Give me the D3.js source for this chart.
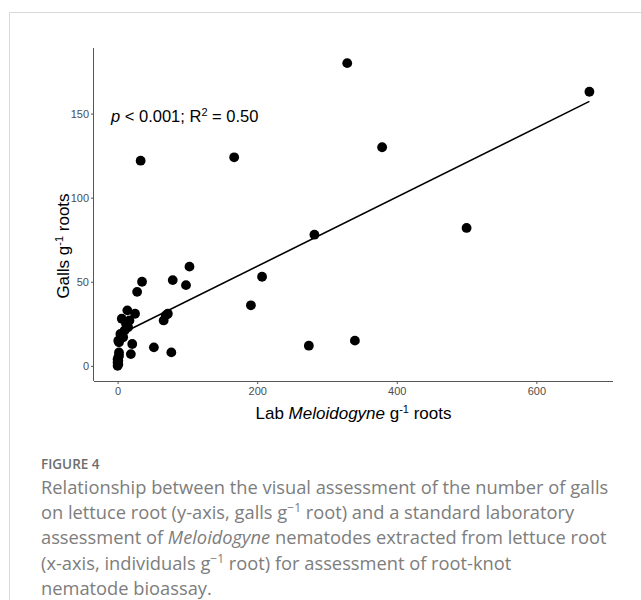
<!DOCTYPE html>
<html lang="en">
	<head>
		<meta charset="UTF-8" />
		<title>Galls vs Meloidogyne</title>
		<style>
			body { margin: 0; background: #fff; }
		</style>
	</head>
	<body>
		<div id="chart"></div>
		<script src="https://d3js.org/d3.v7.min.js"></script>
		<script>
			const width = 641;
			const height = 600;

			// Lab Meloidogyne g-1 roots (x) and galls g-1 roots (y)
			const labCounts = [329, 676, 379, 167, 33, 500, 282, 103, 207, 35, 79, 98, 28, 191, 72, 66, 69,
				14, 25, 6, 17, 12, 15, 10, 274, 340, 52, 77, 21, 19, 2, 8, 4, 1,
				0, 1, 0, 1, 0, 1, 2, 2];
			const gallCounts = [180, 163, 130, 124, 122, 82, 78, 59, 53, 50, 51, 48, 44, 36, 31, 27, 30,
				33, 31, 28, 27, 25, 23, 21, 12, 15, 11, 8, 13, 7, 14, 17, 19, 15,
				0, 1, 2, 3, 4, 5, 6, 8];

			const xTicks = [0, 200, 400, 600];
			const yTicks = [0, 50, 100, 150];

			// linear fit shown on the figure
			const fitIntercept = 18.0;
			const fitSlope = 0.206;
			const fitRange = [0, 676];

			const captionLines = [
				[{ t: "Relationship between the visual assessment of the number of galls" }],
				[{ t: "on lettuce root (y-axis, galls g" }, { t: "−1", sup: true }, { t: " root) and a standard laboratory" }],
				[{ t: "assessment of " }, { t: "Meloidogyne", it: true }, { t: " nematodes extracted from lettuce root" }],
				[{ t: "(x-axis, individuals g" }, { t: "−1", sup: true }, { t: " root) for assessment of root-knot" }],
				[{ t: "nematode bioassay." }],
			];

			const panel = { left: 94, right: 613, top: 48, bottom: 381 };

			const svg = d3
				.select("#chart")
				.append("svg")
				.attr("width", width)
				.attr("height", height)
				.style("font-family", "'Liberation Sans', Arial, sans-serif");

			svg.append("rect").attr("width", width).attr("height", height).attr("fill", "#fff");

			// frame of the figure box
			svg.append("path")
				.attr("d", `M9.5,${height} V12.5 H${width}`)
				.attr("fill", "none")
				.attr("stroke", "#d9d9d9")
				.attr("stroke-width", 1);

			const points = labCounts.map((x, i) => ({ x: x, y: gallCounts[i] }));

			const xMax = d3.max(labCounts);
			const yMax = d3.max(gallCounts);
			const x = d3
				.scaleLinear()
				.domain([-0.05 * xMax, xMax * 1.05])
				.range([panel.left, panel.right]);
			const y = d3
				.scaleLinear()
				.domain([-0.05 * yMax, yMax * 1.05])
				.range([panel.bottom, panel.top]);

			const xAxis = svg
				.append("g")
				.attr("transform", `translate(0,${panel.bottom})`)
				.call(d3.axisBottom(x).tickValues(xTicks).tickSize(3).tickPadding(3).tickSizeOuter(0));
			const yAxis = svg
				.append("g")
				.attr("transform", `translate(${panel.left},0)`)
				.call(d3.axisLeft(y).tickValues(yTicks).tickSize(3).tickPadding(2).tickSizeOuter(0));

			[xAxis, yAxis].forEach(function (a) {
				a.select(".domain").attr("stroke", "#555").attr("stroke-width", 1);
				a.selectAll(".tick line").attr("stroke", "#555");
				a.selectAll(".tick text")
					.attr("fill", "#4d4d4d")
					.style("font-size", "11px")
					.style("font-family", "'Liberation Sans', Arial, sans-serif");
			});
			xAxis.select(".domain").attr("d", `M${panel.left},0.5H${panel.right}`);
			yAxis.select(".domain").attr("d", `M-0.5,${panel.top}V${panel.bottom}`);

			// regression line
			svg.append("line")
				.attr("x1", x(fitRange[0]))
				.attr("y1", y(fitIntercept + fitSlope * fitRange[0]))
				.attr("x2", x(fitRange[1]))
				.attr("y2", y(fitIntercept + fitSlope * fitRange[1]))
				.attr("stroke", "#000")
				.attr("stroke-width", 1.6);

			svg.append("g")
				.selectAll("circle")
				.data(points)
				.join("circle")
				.attr("cx", (d) => x(d.x))
				.attr("cy", (d) => y(d.y))
				.attr("r", 4.9)
				.attr("fill", "#000");

			// annotation
			const ann = svg.append("text")
				.attr("x", 111)
				.attr("y", 122)
				.style("font-size", "16.5px")
				.attr("fill", "#000");
			ann.append("tspan").style("font-style", "italic").text("p");
			ann.append("tspan").text(" < 0.001; R");
			ann.append("tspan").attr("dy", -6).style("font-size", "11px").text("2");
			ann.append("tspan").attr("dy", 6).text(" = 0.50");

			// axis titles
			const xt = svg.append("text")
				.attr("x", (panel.left + panel.right) / 2)
				.attr("y", 419)
				.attr("text-anchor", "middle")
				.style("font-size", "17px")
				.attr("fill", "#000");
			xt.append("tspan").text("Lab ");
			xt.append("tspan").style("font-style", "italic").text("Meloidogyne");
			xt.append("tspan").text(" g");
			xt.append("tspan").attr("dy", -6).style("font-size", "11px").text("-1");
			xt.append("tspan").attr("dy", 6).text(" roots");

			const yt = svg.append("text")
				.attr("transform", "translate(69,246) rotate(-90)")
				.attr("text-anchor", "middle")
				.style("font-size", "17px")
				.attr("fill", "#000");
			yt.append("tspan").text("Galls g");
			yt.append("tspan").attr("dy", -6).style("font-size", "11px").text("-1");
			yt.append("tspan").attr("dy", 6).text(" roots");

			// caption
			svg.append("text")
				.attr("x", 41)
				.attr("y", 469)
				.style("font-family", "'Open Sans', sans-serif")
				.style("font-size", "13.5px")
				.style("font-weight", 600)
				.attr("fill", "#6e6e6e")
				.text("FIGURE 4");

			captionLines.forEach(function (line, i) {
				const t = svg.append("text")
					.attr("x", 41)
					.attr("y", 494 + i * 25.2)
					.style("font-family", "'Open Sans', sans-serif")
					.style("font-size", "18.3px")
					.attr("fill", "#7d7d7d");
				line.forEach(function (seg, j) {
					const s = t.append("tspan").text(seg.t);
					if (seg.it) s.style("font-style", "italic");
					if (seg.sup) {
						s.attr("dy", -7).style("font-size", "12px");
					} else if (j > 0 && line[j - 1].sup) {
						s.attr("dy", 7);
					}
				});
			});
		</script>
	</body>
</html>
